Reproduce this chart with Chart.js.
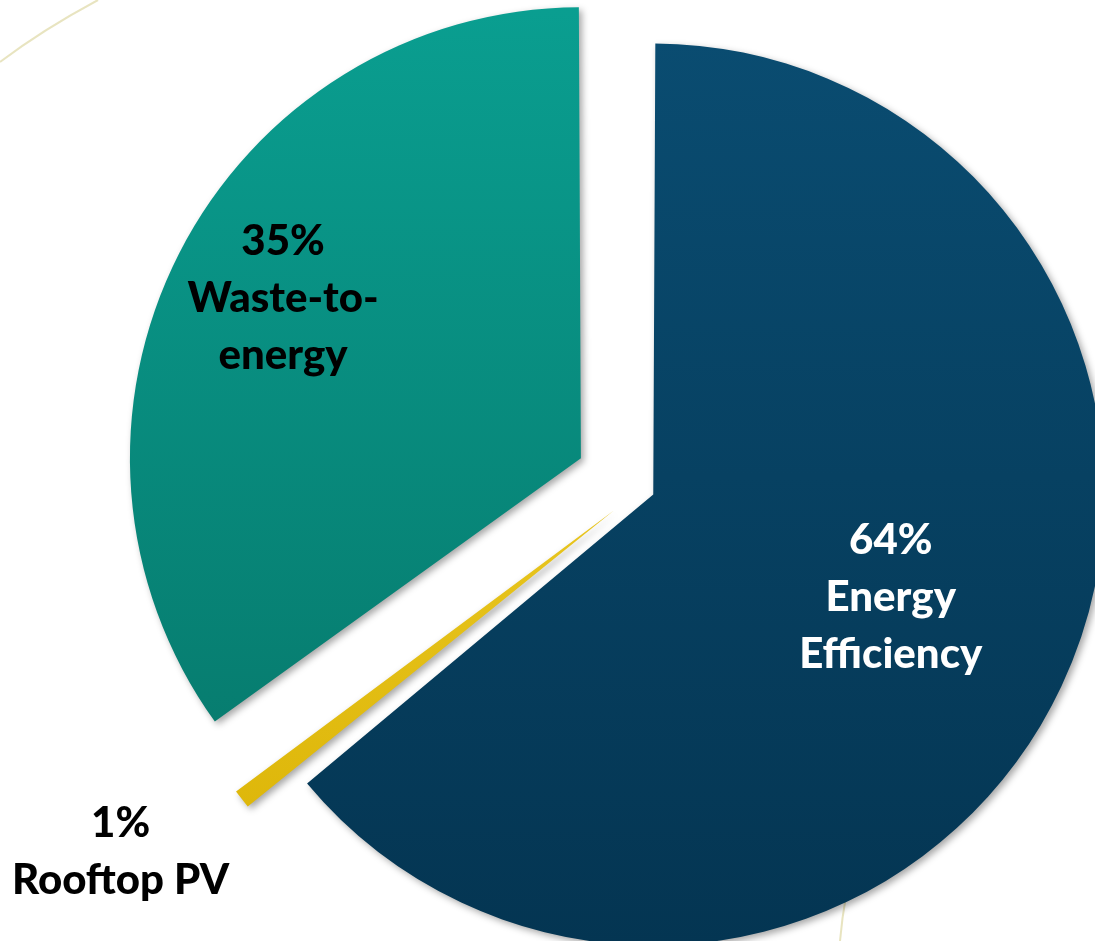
<!DOCTYPE html>
<html>
<head>
<meta charset="utf-8">
<script src="https://cdn.jsdelivr.net/npm/chart.js@4.4.1/dist/chart.umd.min.js"></script>
<style>
  html, body { margin: 0; padding: 0; background: #ffffff; }
  #wrap { width: 1095px; height: 941px; position: relative; }
</style>
</head>
<body>
<div id="wrap">
  <canvas id="pieChart" width="1095" height="941"></canvas>
</div>
<script>
// data, clockwise from 12 o'clock
const categories = ['Energy Efficiency', 'Rooftop PV', 'Waste-to-energy'];
const shares = [64, 1, 35];
const pctLabels = ['64%', '1%', '35%'];
const nameLines = [['Energy', 'Efficiency'], ['Rooftop PV'], ['Waste-to-', 'energy']];

// look
const topColors = ['#0a4d72', '#f8dc40', '#0aa092'];
const bottomColors = ['#043552', '#d9b000', '#067467'];
const textColors = ['#ffffff', '#000000', '#000000'];
const explode = [52, 140, 272];          // chart.js offset (shift is offset/4)
const labelDist = [0.59, 1.368, 0.773];  // of outer radius
const labelTurn = [-2, 3.2, 1.4];        // degrees

const fillGradient = (ctx) => {
  const chart = ctx.chart;
  if (!chart.chartArea) return topColors[ctx.dataIndex];
  const g = chart.ctx.createLinearGradient(0, 0, 0, chart.height);
  g.addColorStop(0, topColors[ctx.dataIndex]);
  g.addColorStop(1, bottomColors[ctx.dataIndex]);
  return g;
};

// faint background swooshes of the slide
const backdrop = {
  id: 'backdrop',
  beforeDraw(chart) {
    const c = chart.ctx;
    c.save();
    c.strokeStyle = 'rgba(214, 206, 140, 0.55)';
    c.lineWidth = 2;
    c.beginPath();
    c.moveTo(0, 62);
    c.quadraticCurveTo(42, 30, 98, 0);
    c.stroke();
    c.beginPath();
    c.moveTo(846, 896);
    c.quadraticCurveTo(842, 918, 840, 941);
    c.stroke();
    c.restore();
  }
};

const shadowPlugin = {
  id: 'shadow',
  beforeDatasetsDraw(chart) {
    const c = chart.ctx;
    c.save();
    c.shadowColor = 'rgba(0,0,0,0.35)';
    c.shadowBlur = 7;
    c.shadowOffsetX = 3;
    c.shadowOffsetY = 3;
  },
  afterDatasetsDraw(chart) {
    chart.ctx.restore();
  }
};

const labelPlugin = {
  id: 'sliceLabels',
  afterDraw(chart) {
    const c = chart.ctx;
    const arcs = chart.getDatasetMeta(0).data;
    const lh = 57;
    c.save();
    c.font = '900 42px Lato';
    c.textAlign = 'center';
    c.textBaseline = 'alphabetic';
    arcs.forEach((arc, i) => {
      const mid = (arc.startAngle + arc.endAngle) / 2;
      const shift = explode[i] / 4;
      const ax = arc.x + Math.cos(mid) * shift;
      const ay = arc.y + Math.sin(mid) * shift;
      const a = mid + labelTurn[i] * Math.PI / 180;
      const d = arc.outerRadius * labelDist[i];
      const cx = ax + Math.cos(a) * d;
      const cy = ay + Math.sin(a) * d;
      const lines = [pctLabels[i]].concat(nameLines[i]);
      const first = cy - (lines.length - 1) * lh / 2 + 15;
      c.fillStyle = textColors[i];
      lines.forEach((t, k) => c.fillText(t, cx, first + k * lh));
    });
    c.restore();
  }
};

new Chart(document.getElementById('pieChart').getContext('2d'), {
  type: 'pie',
  data: {
    labels: categories,
    datasets: [{
      data: shares,
      backgroundColor: fillGradient,
      borderWidth: 0,
      offset: explode
    }]
  },
  options: {
    responsive: false,
    animation: false,
    radius: 438,
    layout: { padding: { left: 188, top: 37, right: 0, bottom: 0 } },
    plugins: {
      legend: { display: false },
      tooltip: { enabled: false }
    }
  },
  plugins: [backdrop, shadowPlugin, labelPlugin]
});
</script>
</body>
</html>
